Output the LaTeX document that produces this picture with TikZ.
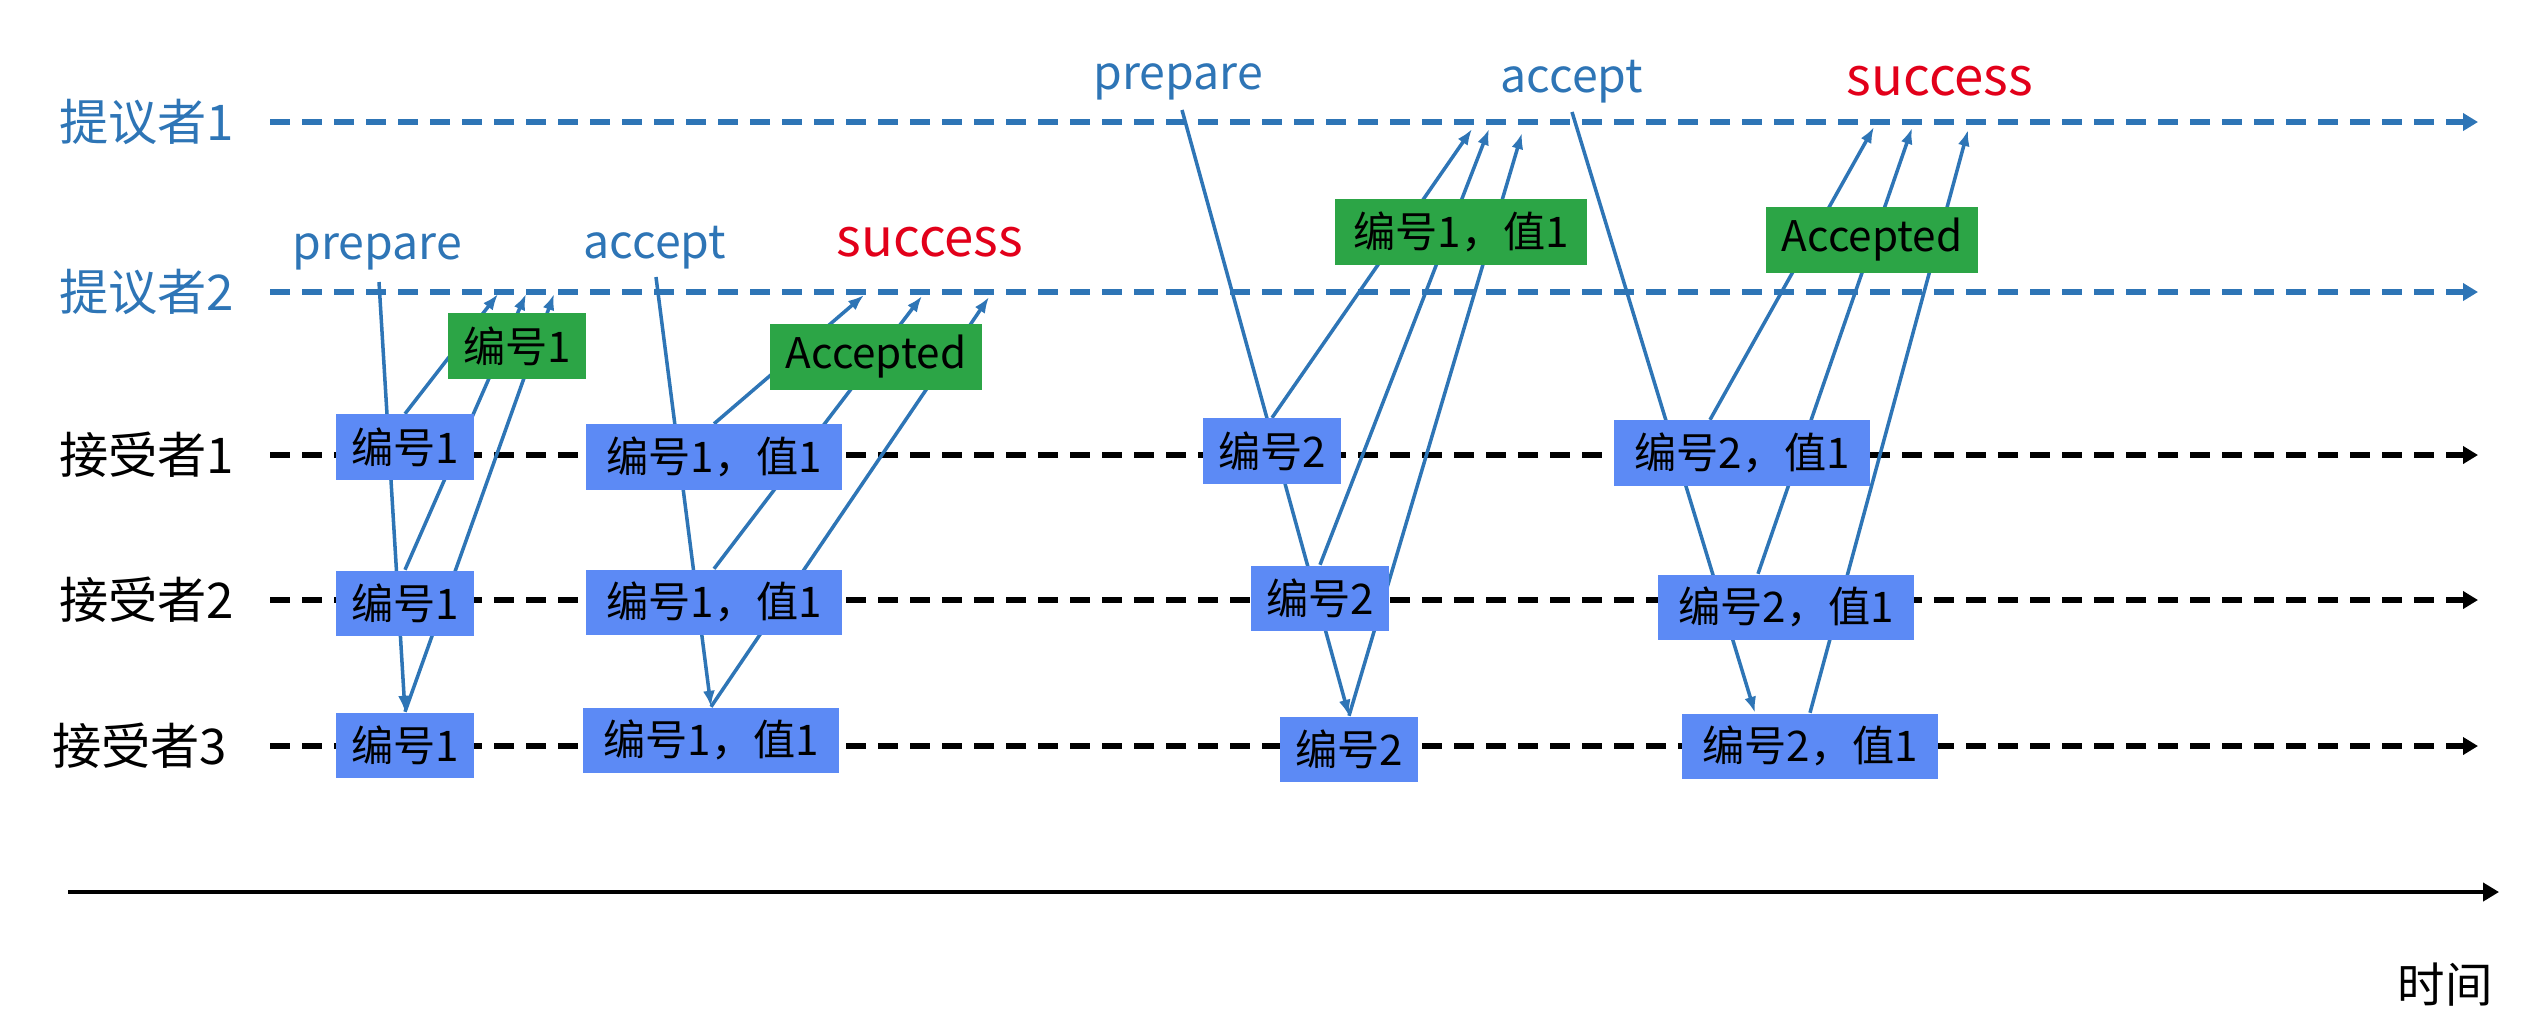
\documentclass[tikz,border=0pt]{standalone}
\usepackage{fontspec}
\setmainfont{Noto Sans CJK SC}
\usepackage{tikz}
\usetikzlibrary{arrows.meta,backgrounds}

\definecolor{lineblue}{RGB}{46,117,182}
\definecolor{boxblue}{RGB}{92,138,245}
\definecolor{boxgreen}{RGB}{44,165,70}
\definecolor{okred}{RGB}{226,0,26}

\begin{document}
\begin{tikzpicture}[x=0.01cm,y=-0.01cm,
    lane/.style={inner sep=0pt, anchor=east, font=\fontsize{14pt}{16pt}\selectfont},
    lifeline/.style={dash pattern=on 5.7pt off 3.4pt, line width=1.6pt, -{Triangle[length=1.5mm,width=1.7mm]}},
    msg/.style={lineblue, line width=1pt, -{Latex[length=1.6mm,width=1.2mm]}},
    acc/.style={fill=boxblue, inner sep=0pt, minimum width=1.37cm, minimum height=0.65cm, font=\fontsize{12pt}{14pt}\selectfont},
    wide/.style={acc, minimum width=2.56cm},
    reply/.style={acc, fill=boxgreen},
    phase/.style={lineblue, font=\fontsize{13.2pt}{16pt}\selectfont}]
    \useasboundingbox (0,0) rectangle (2546,1014);

    % Lane labels
    \node[lane, lineblue] (pro1) at (235,122) {提议者1};
    \node[lane, lineblue] (pro2) at (235,292) {提议者2};
    \node[lane] (acc1) at (235,455) {接受者1};
    \node[lane] (acc2) at (235,600) {接受者2};
    \node[lane] (acc3) at (228,746) {接受者3};

    % Phase labels
    \node[phase] (prep1) at (377,252) {prepare};
    \node[phase] (acpt1) at (655,248) {accept};
    \node[phase, okred, font=\fontsize{15pt}{18pt}\selectfont] (succ1) at (930,242) {success};
    \node[phase] (prep2) at (1178,82) {prepare};
    \node[phase] (acpt2) at (1572,82) {accept};
    \node[phase, okred, font=\fontsize{15pt}{18pt}\selectfont] (succ2) at (1940,81) {success};

    % Boxes on the acceptors
    \node[acc] (a1) at (405,447) {编号1};
    \node[acc] (a2) at (405,603) {编号1};
    \node[acc] (a3) at (405,745) {编号1};
    \node[wide] (b1) at (714,457) {编号1，值1};
    \node[wide] (b2) at (714,602) {编号1，值1};
    \node[wide] (b3) at (711,740) {编号1，值1};
    \node[acc] (c1) at (1272,451) {编号2};
    \node[acc] (c2) at (1320,598) {编号2};
    \node[acc] (c3) at (1349,749) {编号2};
    \node[wide] (d1) at (1742,453) {编号2，值1};
    \node[wide] (d2) at (1786,607) {编号2，值1};
    \node[wide] (d3) at (1810,746) {编号2，值1};

    % Replies
    \node[reply] (g1) at (517,346) {编号1};
    \node[reply, minimum width=2.12cm] (g2) at (876,357) {Accepted};
    \node[reply, minimum width=2.52cm] (g3) at (1461,232) {编号1，值1};
    \node[reply, minimum width=2.12cm] (g4) at (1872,240) {Accepted};

    % Time axis
    \coordinate (t0) at (68,892);
    \coordinate (t1) at (2499,892);
    \node (time) at (2445,985) {\fontsize{13.5pt}{16pt}\selectfont 时间};

    % Free ends of the messages
    \coordinate (p1s) at (379,282);
    \coordinate (p2s) at (656,277);
    \coordinate (p3s) at (1182,110);
    \coordinate (p4s) at (1572,112);
    \coordinate (r1) at (498,294);
    \coordinate (r2) at (526,294);
    \coordinate (r3) at (554,294);
    \coordinate (r4) at (864,295);
    \coordinate (r5) at (922,296);
    \coordinate (r6) at (989,297);
    \coordinate (r7) at (1472,129);
    \coordinate (r8) at (1489,129);
    \coordinate (r9) at (1522,133);
    \coordinate (r10) at (1874,127);
    \coordinate (r11) at (1912,128);
    \coordinate (r12) at (1968,130);

    \begin{scope}[on background layer]
      % Draw the lifelines
      \draw[lifeline, lineblue] ([xshift=0.35cm]pro1.east) -- (2478,122);
      \draw[lifeline, lineblue] ([xshift=0.35cm]pro2.east) -- (2478,292);
      \draw[lifeline] ([xshift=0.35cm]acc1.east) -- (2478,455);
      \draw[lifeline] ([xshift=0.35cm]acc2.east) -- (2478,600);
      \draw[lifeline] ([xshift=0.42cm]acc3.east) -- (2478,746);
      \draw[line width=1.4pt, -{Triangle[length=1.6mm,width=1.8mm]}] (t0) -- (t1);

      % Draw the requests
      \draw[msg] (p1s) -- (a3.north);
      \draw[msg] (p2s) -- (b3.north);
      \draw[msg] (p3s) -- (c3.north);
      \draw[msg] (p4s) -- ([xshift=-0.55cm]d3.north);

      % Draw the answers
      \draw[msg] (a1.north) -- (r1);
      \draw[msg] (a2.north) -- (r2);
      \draw[msg] (a3.north) -- (r3);
      \draw[msg] (b1.north) -- (r4);
      \draw[msg] (b2.north) -- (r5);
      \draw[msg] (b3.north) -- (r6);
      \draw[msg] (c1.north) -- (r7);
      \draw[msg] (c2.north) -- (r8);
      \draw[msg] (c3.north) -- (r9);
      \draw[msg] ([xshift=-0.32cm]d1.north) -- (r10);
      \draw[msg] ([xshift=-0.28cm]d2.north) -- (r11);
      \draw[msg] (d3.north) -- (r12);
    \end{scope}
  \end{tikzpicture}
\end{document}
